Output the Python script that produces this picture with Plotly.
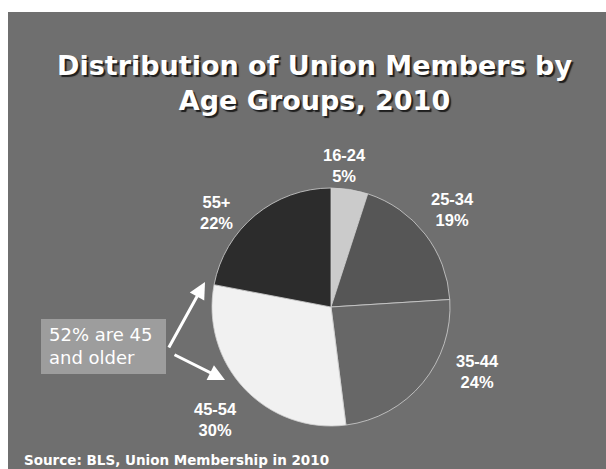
import plotly.graph_objects as go

# Union members by age group, 2010 (share of total, %)
age_groups = ["16-24", "25-34", "35-44", "45-54", "55+"]
shares = [5, 19, 24, 30, 22]
slice_colors = ["#cbcbcb", "#565656", "#676767", "#f1f1f1", "#2c2c2c"]

title_lines = ["Distribution of Union Members by", "Age Groups, 2010"]
callout_text = ["52% are 45", "and older"]
source_text = "Source: BLS, Union Membership in 2010"

W, H = 606, 469

# label block centres in pixels (x, y from top)
label_xy = [(345, 165), (452, 209), (477, 371), (215, 419), (216, 212)]

def px(x):
    return x / W

def py(y):
    return 1 - y / H

cx, cy, r = 331, 307, 119

fig = go.Figure()
fig.add_trace(go.Pie(
    labels=age_groups,
    values=shares,
    sort=False,
    direction="clockwise",
    rotation=0,
    marker=dict(colors=slice_colors, line=dict(color="#d0d0d0", width=0.8)),
    textinfo="none",
    hoverinfo="label+percent",
    showlegend=False,
    domain=dict(x=[px(cx - r), px(cx + r)], y=[py(cy + r), py(cy - r)]),
))

annotations = []
for (lx, ly), g, s in zip(label_xy, age_groups, shares):
    annotations.append(dict(
        x=px(lx), y=py(ly), xref="paper", yref="paper",
        text=f"<b>{g}<br>{s}%</b>", showarrow=False,
        font=dict(family="Liberation Sans, Arial", size=16.5, color="white"),
        align="center", xanchor="center", yanchor="middle",
    ))

# title
annotations.append(dict(
    x=px(314), y=py(83), xref="paper", yref="paper",
    text="<b>" + "<br>".join(title_lines) + "</b>", showarrow=False,
    font=dict(family="DejaVu Sans", size=27, color="white",
              shadow="2px 2px 1px #1e1e1e"),
    align="center", xanchor="center", yanchor="middle",
))

# callout text box
annotations.append(dict(
    x=px(47), y=py(346), xref="paper", yref="paper",
    text="<br>".join(callout_text), showarrow=False,
    font=dict(family="DejaVu Sans", size=18, color="white"),
    align="left", xanchor="left", yanchor="middle",
))

# callout arrows (tail -> tip, pixels)
for tail, tip in [((168, 349), (205, 282)), ((173, 354), (225, 380))]:
    annotations.append(dict(
        x=px(tip[0]), y=py(tip[1]), xref="paper", yref="paper",
        ax=tail[0] - tip[0], ay=tail[1] - tip[1], axref="pixel", ayref="pixel",
        text="", showarrow=True, arrowhead=2, arrowsize=1.1,
        arrowwidth=3, arrowcolor="white",
    ))

# source note
annotations.append(dict(
    x=px(22), y=py(460), xref="paper", yref="paper",
    text=f"<b>{source_text}</b>", showarrow=False,
    font=dict(family="DejaVu Sans", size=13.5, color="white"),
    xanchor="left", yanchor="middle",
))

shapes = [
    # slide background
    dict(type="rect", xref="paper", yref="paper",
         x0=px(8), x1=1, y0=0, y1=py(12),
         fillcolor="#6f6f6f", line=dict(width=0), layer="below"),
    # callout box
    dict(type="rect", xref="paper", yref="paper",
         x0=px(41), x1=px(166), y0=py(374), y1=py(319),
         fillcolor="#9d9d9d", line=dict(width=0), layer="below"),
]

fig.update_layout(
    width=W, height=H,
    margin=dict(l=0, r=0, t=0, b=0),
    paper_bgcolor="white",
    plot_bgcolor="white",
    annotations=annotations,
    shapes=shapes,
)

fig.write_html("out.html")
